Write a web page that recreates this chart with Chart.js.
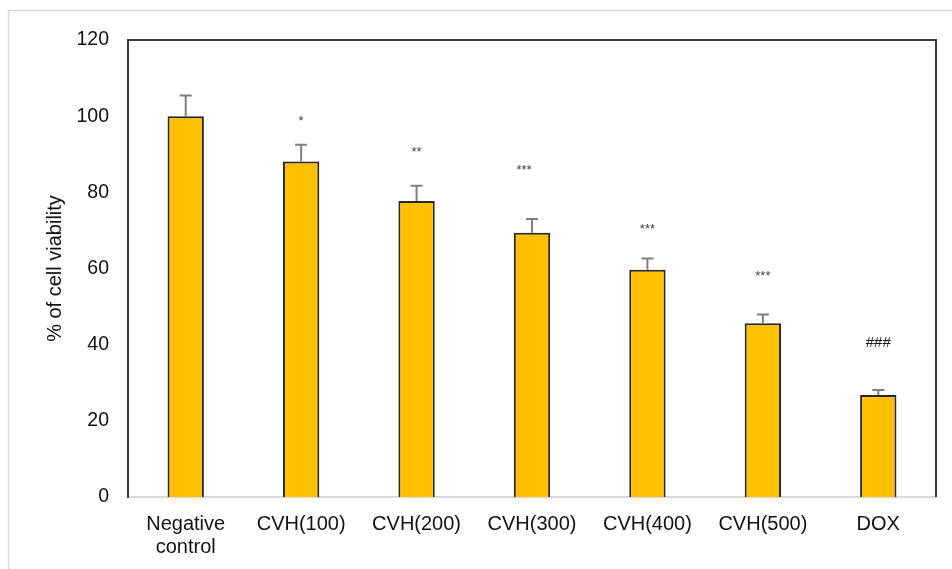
<!DOCTYPE html>
<html>
<head>
<meta charset="utf-8">
<script src="https://cdn.jsdelivr.net/npm/chart.js@4.4.1/dist/chart.umd.min.js"></script>
<style>
  html, body { margin: 0; padding: 0; background: #ffffff; }
  #wrap { width: 952px; height: 569px; position: relative; }
</style>
</head>
<body>
<div id="wrap"><canvas id="chart" width="952" height="569"></canvas></div>
<script>
// Cell viability (%) per treatment group, mean with SD
const groups = [['Negative', 'control'], 'CVH(100)', 'CVH(200)', 'CVH(300)', 'CVH(400)', 'CVH(500)', 'DOX'];
const viability = [100, 88.1, 77.7, 69.4, 59.7, 45.6, 26.8];
const sd = [5.4, 4.4, 4.0, 3.6, 2.9, 2.3, 1.3];
const significance = ['', '*', '**', '***', '***', '***', '###'];
const yTicks = [0, 20, 40, 60, 80, 100, 120];

const FONT = "'Liberation Sans', Arial, sans-serif";

// Light outer frame of the figure
const framePlugin = {
  id: 'frame',
  beforeDraw(chart) {
    const ctx = chart.ctx;
    ctx.save();
    ctx.strokeStyle = '#d9d9d9';
    ctx.lineWidth = 1.5;
    ctx.beginPath();
    ctx.moveTo(8.5, 600);
    ctx.lineTo(8.5, 10.5);
    ctx.lineTo(960, 10.5);
    ctx.stroke();
    ctx.restore();
  },
  afterDraw(chart) {
    // top and right edges of the plot box
    const { left, right, top, bottom } = chart.chartArea;
    const ctx = chart.ctx;
    ctx.save();
    ctx.strokeStyle = '#3a3a3a';
    ctx.lineWidth = 2;
    ctx.beginPath();
    ctx.moveTo(left, top);
    ctx.lineTo(right, top);
    ctx.lineTo(right, bottom);
    ctx.stroke();
    ctx.restore();
  }
};

// SD whiskers (upper only) and significance marks above each bar
const errorPlugin = {
  id: 'errorMarks',
  afterDatasetsDraw(chart, args, opts) {
    const ctx = chart.ctx;
    const meta = chart.getDatasetMeta(0);
    const yScale = chart.scales.y;
    ctx.save();
    meta.data.forEach((bar, i) => {
      const x = bar.x;
      const yTop = yScale.getPixelForValue(viability[i]);
      const yErr = yScale.getPixelForValue(viability[i] + sd[i]);
      ctx.strokeStyle = '#7f7f7f';
      ctx.lineWidth = 2;
      ctx.beginPath();
      ctx.moveTo(x, yTop);
      ctx.lineTo(x, yErr);
      ctx.moveTo(x - 6, yErr);
      ctx.lineTo(x + 6, yErr);
      ctx.stroke();

      const mark = significance[i];
      if (mark) {
        const isHash = mark.startsWith('#');
        ctx.font = (isHash ? '15px ' : '13px ') + FONT;
        ctx.fillStyle = isHash ? '#1a1a1a' : '#404040';
        ctx.textAlign = 'center';
        ctx.textBaseline = 'middle';
        const y = yScale.getPixelForValue(opts.levels[i]) + (isHash ? 0 : 3);
        ctx.fillText(mark, x + opts.shift[i], y);
      }
    });
    ctx.restore();
  }
};

new Chart(document.getElementById('chart'), {
  type: 'bar',
  data: {
    labels: groups,
    datasets: [{
      data: viability,
      backgroundColor: '#ffc000',
      borderColor: '#262626',
      borderWidth: 2,
      categoryPercentage: 1,
      barPercentage: 0.315
    }]
  },
  options: {
    responsive: false,
    animation: false,
    devicePixelRatio: 1,
    layout: { padding: { top: 40, right: 16, bottom: 0, left: 0 } },
    plugins: {
      legend: { display: false },
      tooltip: { enabled: false },
      errorMarks: {
        levels: [0, 99.4, 91.3, 86.6, 71.1, 58.8, 40.4],
        shift: [0, 0, 0, -8, 0, 0, 0]
      }
    },
    scales: {
      x: {
        grid: { display: false, drawTicks: false },
        border: { display: true, color: '#d9d9d9', width: 2 },
        ticks: {
          color: '#111111',
          padding: 16,
          maxRotation: 0,
          autoSkip: false,
          font: { family: FONT, size: 20, lineHeight: 1.15 }
        },
        afterFit(scale) { scale.height = 72; }
      },
      y: {
        min: 0,
        max: 120,
        afterBuildTicks(scale) { scale.ticks = yTicks.map(v => ({ value: v })); },
        grid: { display: false, drawTicks: false },
        border: { display: true, color: '#3a3a3a', width: 2 },
        ticks: {
          color: '#111111',
          padding: 19,
          font: { family: FONT, size: 19.5 }
        },
        title: {
          display: true,
          text: '% of cell viability',
          color: '#111111',
          padding: { top: 43, bottom: 0 },
          font: { family: FONT, size: 20 }
        },
        afterFit(scale) { scale.width = 128; }
      }
    }
  },
  plugins: [framePlugin, errorPlugin]
});
</script>
</body>
</html>
